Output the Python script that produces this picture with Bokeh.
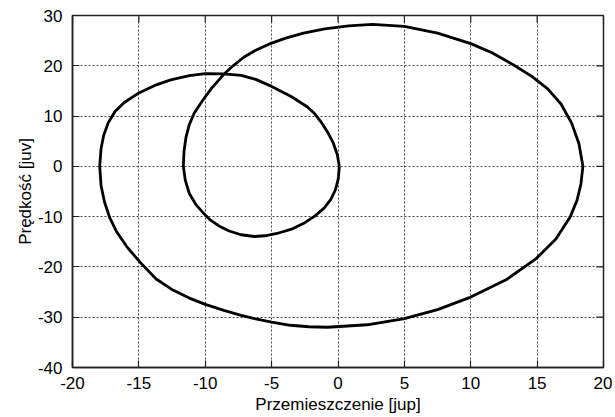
import math
from bokeh.plotting import figure
from bokeh.models import Range1d, FixedTicker, PrintfTickFormatter
from bokeh.embed import file_html
from bokeh.resources import INLINE

# Trajectory in phase space (ordered along the curve)
displacement = [
    0.1, 0.02, -0.2, -0.55, -1.05, -1.7, -2.5, -3.5, -4.6, -5.5, -6.3, -7.3, -8.2, -9.0,
    -9.6, -10.1, -10.7, -11.2, -11.5, -11.65, -11.6, -11.45, -11.2, -10.85, -10.2, -9.5,
    -8.6, -7.9, -7.1, -6.2, -5.2, -4.0, -2.6, -1.0, 0.8, 2.6, 5.0, 7.5, 10.0, 11.6, 13.2,
    14.6, 15.8, 16.8, 17.6, 18.15, 18.45, 18.3, 18.0, 17.5, 16.4, 14.9, 12.7, 10.0, 7.5,
    5.0, 2.2, -0.8, -2.2, -3.6, -5.0, -6.2, -7.3, -8.6, -10.0, -11.2, -12.4, -13.7, -14.9,
    -15.9, -16.7, -17.2, -17.6, -17.85, -17.95, -17.85, -17.65, -17.3, -16.8, -16.1,
    -15.0, -13.8, -12.6, -11.2, -10.0, -8.6, -7.3, -6.2, -5.0, -3.6, -3.0, -2.3, -1.75,
    -1.3, -0.8, -0.35, -0.05, 0.1,
]
velocity = [
    0.0, -2.5, -4.7, -6.6, -8.3, -9.8, -11.2, -12.5, -13.35, -13.8, -13.95, -13.6, -12.85,
    -11.8, -10.7, -9.4, -7.6, -5.4, -2.8, 0.0, 3.0, 5.8, 8.3, 10.5, 13.1, 15.6, 18.3, 20.0,
    21.7, 23.1, 24.3, 25.45, 26.5, 27.35, 27.95, 28.25, 27.85, 26.5, 24.4, 22.6, 20.2,
    17.9, 15.4, 12.4, 8.6, 4.5, 0.0, -3.5, -6.8, -10.0, -14.5, -18.4, -22.5, -26.0, -28.5,
    -30.3, -31.5, -32.0, -31.9, -31.6, -31.0, -30.35, -29.65, -28.65, -27.45, -26.2,
    -24.65, -22.4, -19.1, -16.0, -12.9, -10.2, -7.0, -3.8, 0.0, 3.5, 6.2, 8.7, 10.9, 12.7,
    14.6, 16.1, 17.2, 18.05, 18.45, 18.4, 18.1, 17.3, 15.9, 14.0, 13.0, 11.8, 10.45, 8.9,
    6.9, 4.6, 2.3, 0.0,
]

x_ticks = [-20, -15, -10, -5, 0, 5, 10, 15, 20]
y_ticks = [-40, -30, -20, -10, 0, 10, 20, 30]
x_label = "Przemieszczenie [jup]"
y_label = "Prędkość [juv]"
x_min, x_max = -20, 20
y_min, y_max = -40, 30

FONT = "Liberation Sans"
INK = "#222222"

p = figure(width=612, height=416, output_backend="svg", toolbar_location=None,
           x_range=Range1d(x_min, x_max), y_range=Range1d(y_min, y_max),
           min_border_left=72, min_border_right=9, min_border_top=15, min_border_bottom=49)

p.background_fill_color = "white"
p.border_fill_color = "white"
p.outline_line_color = INK
p.outline_line_width = 1.5

for ax, ticks in ((p.xaxis[0], x_ticks), (p.yaxis[0], y_ticks)):
    ax.ticker = FixedTicker(ticks=ticks)
    ax.formatter = PrintfTickFormatter(format="%d")
    ax.major_tick_in = 7
    ax.major_tick_out = 0
    ax.minor_tick_line_color = None
    ax.major_tick_line_color = INK
    ax.major_tick_line_width = 1.2
    ax.axis_line_color = INK
    ax.axis_line_width = 1.5
    ax.major_label_text_font = FONT
    ax.major_label_text_font_size = "17px"
    ax.major_label_text_color = "black"
    ax.axis_label_text_font = FONT
    ax.axis_label_text_font_size = "17px"
    ax.axis_label_text_font_style = "normal"
    ax.axis_label_text_color = "black"

p.xaxis[0].axis_label = x_label
p.yaxis[0].axis_label = y_label
p.xaxis[0].major_label_standoff = 9
p.xaxis[0].axis_label_standoff = 3
p.yaxis[0].major_label_standoff = 10
p.yaxis[0].axis_label_standoff = 0

for g, ticks in ((p.xgrid[0], x_ticks), (p.ygrid[0], y_ticks)):
    g.ticker = FixedTicker(ticks=ticks)
    g.grid_line_color = "#444444"
    g.grid_line_width = 1
    g.grid_line_dash = "2 2"

# Inward tick marks on the top and right edges (half of each dash is clipped by the frame)
p.scatter(x_ticks, [y_max] * len(x_ticks), marker="dash", size=14, angle=math.pi / 2,
          line_color=INK, line_width=1.2)
p.scatter([x_max] * len(y_ticks), y_ticks, marker="dash", size=14,
          line_color=INK, line_width=1.2)

p.line(displacement, velocity, line_color="black", line_width=2.8, line_join="round")

open("out.html", "w").write(file_html(p, INLINE))
